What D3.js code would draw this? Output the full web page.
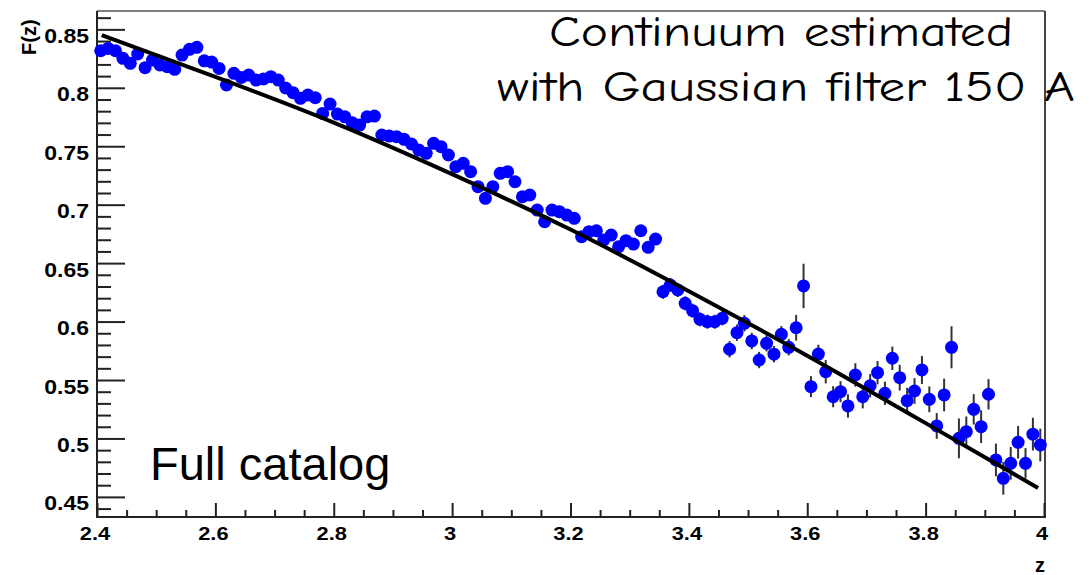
<!DOCTYPE html>
<html>
<head>
<meta charset="utf-8">
<script src="https://cdn.jsdelivr.net/npm/d3@7"></script>
<style>
  html, body { margin: 0; padding: 0; background: #fff; }
  svg { display: block; }
  .lbl { font-family: "Liberation Sans", Arial, Helvetica, sans-serif; font-weight: bold; fill: #000; }
  .comic { font-family: "Comic Sans MS", "Comic Neue", "DejaVu Sans", sans-serif; fill: #000; }
</style>
</head>
<body>
<svg id="chart" width="1090" height="575"></svg>
<script>
// Flux-decrement F(z) histogram with smooth continuum fit on top.

// histogram binning along z
const binStart = 2.4;
const binWidth = 0.0125;

// F(z) per bin (128 bins, 2.4 -> 4.0)
const fVals = [
  0.8317, 0.8337, 0.8317, 0.8252, 0.8209, 0.8289, 0.8172, 0.8237, 0.8195, 0.8180,
  0.8158, 0.8280, 0.8329, 0.8346, 0.8231, 0.8220, 0.8166, 0.8024, 0.8124, 0.8089,
  0.8109, 0.8066, 0.8075, 0.8095, 0.8066, 0.7998, 0.7958, 0.7910, 0.7938, 0.7915,
  0.7781, 0.7861, 0.7775, 0.7752, 0.7701, 0.7681, 0.7752, 0.7758, 0.7596, 0.7587,
  0.7581, 0.7559, 0.7519, 0.7467, 0.7439, 0.7525, 0.7496, 0.7425, 0.7325, 0.7354,
  0.7282, 0.7154, 0.7054, 0.7154, 0.7268, 0.7282, 0.7196, 0.7068, 0.7083, 0.6954,
  0.6854, 0.6954, 0.6940, 0.6911, 0.6883, 0.6726, 0.6769, 0.6777, 0.6698, 0.6740,
  0.6640, 0.6692, 0.6663, 0.6777, 0.6635, 0.6706, 0.6255, 0.6313, 0.6270, 0.6156,
  0.6093, 0.6019, 0.5999, 0.5999, 0.6028, 0.5763, 0.5905, 0.5985, 0.5834, 0.5671,
  0.5814, 0.5721, 0.5891, 0.5780, 0.5947, 0.6305, 0.5443, 0.5722, 0.5571, 0.5357,
  0.5400, 0.5278, 0.5543, 0.5357, 0.5451, 0.5563, 0.5386, 0.5686, 0.5520, 0.5323,
  0.5406, 0.5586, 0.5335, 0.5107, 0.5372, 0.5780, 0.5001, 0.5058, 0.5249, 0.5101,
  0.5378, 0.4816, 0.4659, 0.4787, 0.4967, 0.4787, 0.5037, 0.4944
];

// statistical error per bin
const fErrs = [
  0.003, 0.003, 0.003, 0.003, 0.003, 0.003, 0.003, 0.003, 0.003, 0.003,
  0.003, 0.003, 0.003, 0.003, 0.003, 0.003, 0.003, 0.003, 0.003, 0.003,
  0.003, 0.003, 0.003, 0.003, 0.003, 0.003, 0.003, 0.003, 0.003, 0.003,
  0.004, 0.004, 0.004, 0.004, 0.004, 0.004, 0.004, 0.004, 0.004, 0.004,
  0.004, 0.004, 0.004, 0.004, 0.004, 0.004, 0.004, 0.004, 0.004, 0.004,
  0.004, 0.004, 0.004, 0.004, 0.004, 0.004, 0.004, 0.004, 0.004, 0.004,
  0.005, 0.005, 0.005, 0.005, 0.005, 0.005, 0.005, 0.005, 0.005, 0.005,
  0.005, 0.005, 0.005, 0.005, 0.005, 0.005, 0.006, 0.006, 0.006, 0.006,
  0.006, 0.006, 0.006, 0.006, 0.006, 0.007, 0.007, 0.007, 0.007, 0.007,
  0.007, 0.007, 0.007, 0.007, 0.011, 0.019, 0.009, 0.008, 0.010, 0.009,
  0.009, 0.010, 0.010, 0.010, 0.010, 0.010, 0.010, 0.010, 0.011, 0.011,
  0.011, 0.012, 0.011, 0.011, 0.014, 0.018, 0.017, 0.013, 0.013, 0.014,
  0.013, 0.014, 0.014, 0.014, 0.014, 0.013, 0.014, 0.014
];

// continuum fit (Gaussian-filtered), sampled off the curve
const fitZ = [2.408, 2.6, 2.8, 3.0, 3.2, 3.4, 3.6, 3.8, 3.99];
const fitF = [0.8451, 0.8093, 0.7702, 0.7261, 0.6787, 0.6260, 0.5708, 0.5131, 0.4576];

const xTicksMajor = [2.4, 2.6, 2.8, 3.0, 3.2, 3.4, 3.6, 3.8, 4.0];
const xTickLabels = ['2.4', '2.6', '2.8', '3', '3.2', '3.4', '3.6', '3.8', '4'];
const yTicksMajor = [0.45, 0.5, 0.55, 0.6, 0.65, 0.7, 0.75, 0.8, 0.85];
const yTickLabels = ['0.45', '0.5', '0.55', '0.6', '0.65', '0.7', '0.75', '0.8', '0.85'];

const L = 97, R = 1044, T = 11, B = 517;

const svg = d3.select('#chart');
const x = d3.scaleLinear().domain([2.4, 4.0]).range([L, R]);
const y = d3.scaleLinear().domain([0.4328, 0.8657]).range([B, T]);

const pts = fVals.map((v, i) => ({ z: binStart + binWidth * (i + 0.5), f: v, e: fErrs[i] }));

// frame (top + right, greyish like ROOT pad frame)
svg.append('line').attr('x1', L).attr('x2', R + 1).attr('y1', T).attr('y2', T)
  .attr('stroke', '#555').attr('stroke-width', 1.5);
svg.append('line').attr('x1', R + 1).attr('x2', R + 1).attr('y1', T).attr('y2', B)
  .attr('stroke', '#444').attr('stroke-width', 2);

// y axis: ticks point inward
const yMinor = d3.range(0.44, 0.866, 0.01).filter(v => Math.abs(Math.round(v * 20) - v * 20) > 1e-6);
const gy = svg.append('g').attr('transform', `translate(${L},0)`);
gy.call(d3.axisRight(y).tickValues(yTicksMajor).tickSize(28).tickFormat(''));
gy.append('g').call(d3.axisRight(y).tickValues(yMinor).tickSize(14).tickFormat(''));
gy.selectAll('.domain').remove();
gy.selectAll('line').attr('stroke', '#222').attr('stroke-width', 2);
svg.append('line').attr('x1', L).attr('x2', L).attr('y1', T).attr('y2', B + 1)
  .attr('stroke', '#222').attr('stroke-width', 2);

// x axis
const xMinor = d3.range(2.45, 4.0, 0.05).filter(v => Math.abs(Math.round(v * 5) - v * 5) > 1e-6);
const gx = svg.append('g').attr('transform', `translate(0,${B})`);
gx.call(d3.axisTop(x).tickValues(xTicksMajor).tickSize(14).tickFormat(''));
gx.append('g').call(d3.axisTop(x).tickValues(xMinor).tickSize(7).tickFormat(''));
gx.selectAll('.domain').remove();
gx.selectAll('line').attr('stroke', '#222').attr('stroke-width', 2);
svg.append('line').attr('x1', L - 1).attr('x2', R + 2).attr('y1', B).attr('y2', B)
  .attr('stroke', '#222').attr('stroke-width', 2);

// tick labels (ROOT bold helvetica, a bit wide)
yTicksMajor.forEach((v, i) => {
  svg.append('text').attr('class', 'lbl')
    .attr('transform', `translate(89,${y(v) + 6.5}) scale(1.15,1)`)
    .attr('text-anchor', 'end').attr('dy', '0.35em')
    .style('font-size', '20px')
    .text(yTickLabels[i]);
});
xTicksMajor.forEach((v, i) => {
  svg.append('text').attr('class', 'lbl')
    .attr('transform', `translate(${x(v) - 2},540) scale(1.15,1)`)
    .attr('text-anchor', 'middle')
    .style('font-size', '19px')
    .text(xTickLabels[i]);
});

// axis titles
svg.append('text').attr('class', 'lbl')
  .attr('transform', 'translate(36,55) rotate(-90)')
  .style('font-size', '20px')
  .text('F(z)');
svg.append('text').attr('class', 'lbl')
  .attr('x', 1040).attr('y', 572).attr('text-anchor', 'middle')
  .style('font-size', '20px')
  .text('z');

// error bars
svg.append('g').selectAll('line')
  .data(pts).enter().append('line')
    .attr('x1', d => x(d.z)).attr('x2', d => x(d.z))
    .attr('y1', d => y(d.f - d.e)).attr('y2', d => y(d.f + d.e))
    .attr('stroke', '#333').attr('stroke-width', 2);

// markers
svg.append('g').selectAll('circle')
  .data(pts).enter().append('circle')
    .attr('cx', d => x(d.z)).attr('cy', d => y(d.f))
    .attr('r', 6.5).attr('fill', '#0000ff');

// fitted continuum
const line = d3.line().x(d => x(d[0])).y(d => y(d[1])).curve(d3.curveNatural);
svg.append('path')
  .datum(fitZ.map((z, i) => [z, fitF[i]]))
  .attr('d', line)
  .attr('fill', 'none').attr('stroke', '#000').attr('stroke-width', 4);

// annotations
svg.append('text').attr('class', 'comic')
  .attr('x', 549).attr('y', 46)
  .attr('textLength', 464).attr('lengthAdjust', 'spacingAndGlyphs')
  .style('font-size', '42px')
  .text('Continuum estimated');
svg.append('text').attr('class', 'comic')
  .attr('x', 497).attr('y', 101)
  .attr('textLength', 578).attr('lengthAdjust', 'spacingAndGlyphs')
  .style('font-size', '42px')
  .text('with Gaussian filter 150 A');
svg.append('text')
  .attr('x', 150).attr('y', 480)
  .style('font-family', '"Liberation Sans", Arial, Helvetica, sans-serif')
  .style('font-size', '47px')
  .text('Full catalog');
</script>
</body>
</html>
